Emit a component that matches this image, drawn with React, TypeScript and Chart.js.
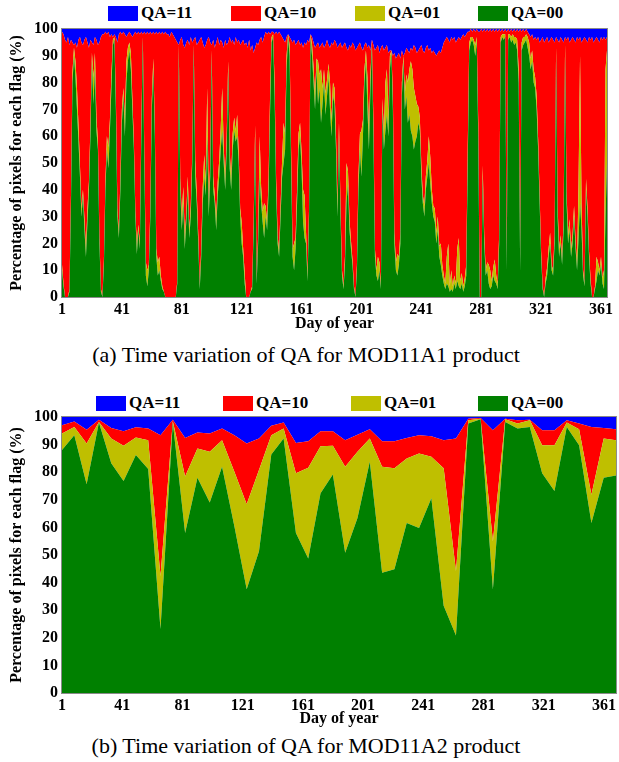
import { useEffect, useRef } from "react";
import Chart from "chart.js/auto";

const SERIF = "'Liberation Serif', 'Times New Roman', serif";

const FLAG_LABELS = ["QA=11", "QA=10", "QA=01", "QA=00"];
const FLAG_COLORS = ["#0000FF", "#FF0000", "#BFBF00", "#008000"];

const DAY_TICKS = [1, 41, 81, 121, 161, 201, 241, 281, 321, 361];

// MOD11A1 (daily): upper edge of each flag band in % of pixels, stacked from QA=00 upward.
// Whatever lies above the QA=10 edge is QA=11.
const A1_TOP_QA00 = [
  10, 4, 0, 0, 0, 2, 35, 80, 90, 82, 70, 58, 45, 30, 38, 25, 15, 28, 40, 60,
  88, 72, 85, 62, 55, 20, 2, 0, 12, 40, 55, 48, 62, 78, 94, 96, 70, 30, 22, 40,
  65, 75, 60, 80, 88, 92, 85, 70, 55, 30, 16, 25, 18, 60, 96, 50, 8, 4, 10, 30,
  70, 85, 60, 15, 8, 10, 6, 3, 2, 0, 0, 0, 0, 0, 0, 0, 0, 5, 92, 40,
  25, 35, 18, 28, 40, 22, 30, 50, 93, 45, 35, 20, 3, 15, 35, 45, 38, 60, 30, 45,
  90, 40, 35, 25, 38, 45, 55, 62, 50, 40, 55, 85, 48, 40, 55, 62, 58, 60, 50, 30,
  20, 15, 5, 0, 0, 0, 2, 3, 25, 60, 5, 20, 45, 35, 28, 22, 30, 25, 40, 70,
  95, 97, 75, 40, 20, 15, 30, 45, 50, 55, 85, 97, 90, 50, 15, 10, 18, 35, 55, 60,
  48, 28, 22, 20, 6, 30, 97, 90, 80, 70, 85, 72, 78, 65, 72, 80, 68, 75, 82, 70,
  60, 75, 72, 55, 30, 60, 30, 8, 3, 12, 35, 42, 25, 18, 12, 3, 0, 10, 40, 55,
  45, 60, 80, 88, 70, 55, 78, 94, 60, 15, 8, 6, 10, 3, 70, 55, 62, 68, 60, 85,
  91, 70, 20, 10, 8, 12, 20, 75, 88, 70, 75, 65, 68, 62, 60, 55, 58, 60, 65, 62,
  45, 35, 30, 40, 45, 50, 42, 35, 30, 28, 20, 25, 15, 12, 8, 5, 3, 5, 4, 2,
  3, 2, 5, 3, 6, 4, 3, 5, 2, 4, 8, 50, 92, 95, 96, 94, 90, 95, 60, 0,
  0, 45, 20, 8, 10, 5, 3, 4, 8, 6, 5, 3, 20, 95, 97, 96, 97, 10, 96, 97,
  95, 96, 94, 95, 92, 80, 10, 92, 94, 95, 96, 93, 90, 85, 88, 80, 78, 70, 55, 35,
  15, 3, 0, 5, 8, 15, 20, 10, 8, 20, 90, 30, 15, 20, 12, 25, 90, 35, 20, 25,
  15, 20, 30, 18, 10, 22, 35, 25, 8, 4, 40, 30, 15, 5, 0, 0, 3, 6, 10, 8,
  12, 5, 3, 30, 50,
];
const A1_TOP_QA01 = [
  12, 5, 0, 0, 0, 3, 38, 84, 93, 88, 78, 64, 49, 33, 40, 29, 18, 33, 43, 64,
  91, 82, 91, 67, 58, 22, 3, 0, 14, 43, 60, 56, 66, 83, 96, 97, 74, 33, 24, 44,
  70, 78, 66, 88, 93, 95, 91, 74, 58, 32, 19, 27, 20, 64, 97, 53, 13, 10, 12, 33,
  74, 89, 63, 18, 13, 15, 8, 4, 2, 0, 0, 0, 0, 0, 0, 0, 0, 6, 94, 44,
  30, 41, 22, 31, 45, 25, 34, 53, 94, 51, 39, 23, 4, 18, 41, 53, 43, 78, 34, 50,
  92, 45, 38, 29, 43, 51, 63, 78, 56, 44, 60, 88, 54, 44, 61, 67, 62, 68, 54, 33,
  28, 18, 9, 0, 0, 0, 2, 4, 28, 64, 6, 23, 60, 41, 32, 35, 34, 28, 45, 76,
  97, 98, 80, 44, 23, 17, 34, 51, 65, 61, 90, 98, 94, 55, 18, 20, 22, 40, 61, 65,
  54, 40, 38, 24, 8, 33, 98, 94, 86, 75, 89, 88, 83, 85, 78, 85, 76, 81, 87, 80,
  66, 80, 78, 60, 34, 65, 34, 10, 4, 15, 50, 47, 29, 21, 14, 4, 0, 12, 45, 61,
  62, 66, 85, 92, 82, 61, 83, 95, 65, 18, 10, 15, 13, 4, 74, 61, 80, 85, 66, 90,
  92, 75, 24, 13, 16, 15, 24, 80, 90, 76, 83, 80, 85, 88, 85, 78, 75, 72, 71, 67,
  49, 38, 34, 45, 51, 60, 52, 40, 34, 33, 24, 30, 19, 20, 12, 8, 5, 15, 20, 4,
  10, 4, 8, 5, 18, 22, 6, 9, 4, 7, 12, 56, 95, 97, 97, 96, 94, 97, 65, 0,
  0, 49, 23, 10, 13, 12, 10, 6, 11, 14, 8, 5, 24, 97, 98, 98, 98, 12, 98, 98,
  97, 98, 97, 97, 96, 85, 13, 95, 97, 97, 98, 97, 95, 89, 92, 85, 82, 75, 59, 38,
  17, 4, 0, 7, 11, 18, 24, 12, 10, 23, 93, 34, 18, 23, 14, 29, 94, 39, 23, 29,
  18, 23, 34, 21, 12, 42, 90, 35, 10, 5, 44, 33, 17, 7, 0, 0, 4, 15, 13, 10,
  15, 7, 10, 85, 92,
];
const A1_TOP_QA10 = [
  99, 98, 96, 95, 97, 94, 96, 95, 94, 95, 93, 96, 97, 95, 94, 96, 97, 95, 93, 96,
  95, 94, 97, 96, 94, 95, 97, 98, 98, 99, 98, 99, 97, 98, 97, 98, 97, 95, 98, 99,
  98, 99, 98, 97, 98, 99, 98, 97, 98, 99, 98, 99, 98, 99, 98, 99, 98, 99, 98, 99,
  98, 99, 98, 99, 98, 99, 98, 99, 98, 99, 98, 98, 97, 99, 98, 97, 96, 95, 94, 96,
  97, 94, 93, 95, 96, 94, 97, 95, 96, 97, 94, 95, 96, 97, 95, 93, 94, 96, 97, 95,
  94, 96, 93, 95, 97, 94, 96, 95, 93, 96, 94, 95, 97, 95, 96, 94, 97, 95, 96, 94,
  95, 96, 94, 95, 93, 96, 92, 94, 91, 93, 95, 94, 96, 97, 95, 97, 99, 98, 99, 98,
  99, 99, 98, 99, 98, 99, 98, 97, 96, 95, 97, 98, 97, 96, 95, 96, 94, 95, 96, 94,
  95, 93, 95, 94, 96, 95, 98, 97, 95, 93, 94, 95, 93, 94, 95, 93, 94, 96, 94, 93,
  95, 94, 96, 95, 93, 94, 95, 93, 94, 95, 93, 92, 94, 93, 95, 94, 92, 93, 94, 95,
  93, 92, 94, 95, 93, 94, 92, 96, 94, 92, 93, 94, 91, 93, 94, 92, 93, 94, 91, 92,
  92, 90, 91, 89, 90, 91, 89, 92, 90, 91, 93, 92, 91, 93, 92, 94, 93, 91, 92, 93,
  94, 92, 91, 93, 94, 92, 93, 91, 92, 91, 90, 91, 92, 91, 93, 95, 96, 97, 96, 95,
  97, 96, 97, 95, 96, 97, 96, 97, 98, 97, 98, 99, 99, 100, 99, 100, 99, 100, 99, 99,
  100, 99, 100, 99, 100, 99, 100, 99, 100, 99, 100, 99, 100, 99, 100, 99, 100, 99, 100, 99,
  100, 99, 100, 99, 100, 99, 100, 99, 100, 99, 100, 99, 98, 97, 98, 96, 97, 96, 97, 95,
  96, 97, 95, 96, 97, 95, 96, 97, 96, 95, 97, 96, 95, 97, 96, 95, 97, 96, 97, 95,
  96, 97, 96, 95, 97, 96, 97, 95, 96, 97, 96, 95, 97, 96, 97, 95, 96, 97, 96, 95,
  97, 96, 97, 96, 97,
];

// MOD11A2 (8-day composites, 46 periods): upper edge of each flag band in %.
const A2_TOP_QA00 = [
  88, 93.4, 75.6, 98, 83.2, 76.8, 86.2, 81.2, 23.2, 98,
  58, 78, 69, 82, 60.4, 37.6, 51.4, 86.4, 92.2, 58,
  48.7, 72.4, 79.2, 50.8, 63.4, 83.8, 43.6, 44.8, 61.6, 59.8,
  70.6, 31.6, 20.8, 97.6, 99.2, 37.6, 98.2, 95.8, 96.4, 79.6,
  73.2, 96.4, 89.8, 61.6, 78, 78.8,
];
const A2_TOP_QA01 = [
  94, 96.4, 90.4, 98.2, 92.2, 89.6, 92.6, 91.6, 42.4, 98.5,
  78.4, 88.6, 87.4, 91.6, 80.2, 68.4, 80.8, 93.4, 95.8, 79.6,
  81.6, 89.4, 89.6, 82, 87.4, 92.2, 82, 81.4, 85, 86.8,
  85.6, 81.4, 44.2, 98.8, 99.4, 55, 99.2, 97.6, 98.8, 89.8,
  89.8, 98, 95.6, 71.8, 92.2, 91.6,
];
const A2_TOP_QA10 = [
  97, 98.4, 95.4, 99, 96, 94.8, 96.3, 95.8, 93.4, 99,
  92.4, 94.4, 94, 95.8, 93.4, 90.4, 92.2, 96.8, 98, 90.6,
  91.2, 94.8, 94.8, 91.6, 93.6, 95.6, 91.2, 91.2, 92.4, 93.4,
  93, 91.6, 92.2, 99.4, 99.6, 95.2, 99.4, 98.8, 99, 95.2,
  95.2, 98.8, 97.6, 96.4, 96, 95.6,
];

type Frame = {
  canvasTop: number;
  canvasHeight: number;
  plotTop: number;
  plotBottom: number;
  plotRight: number;
  xMax: number;
};

// thin grey box around the plotting area
const plotFrame = {
  id: "plotFrame",
  afterDraw(chart: any) {
    const { ctx, chartArea } = chart;
    ctx.save();
    ctx.strokeStyle = "#8a8a8a";
    ctx.lineWidth = 1;
    ctx.strokeRect(
      chartArea.left - 0.5,
      chartArea.top - 0.5,
      chartArea.right - chartArea.left + 1,
      chartArea.bottom - chartArea.top + 1
    );
    ctx.restore();
  },
};

function QaChart({
  xs,
  top00,
  top01,
  top10,
  frame,
}: {
  xs: number[];
  top00: number[];
  top01: number[];
  top10: number[];
  frame: Frame;
}) {
  const ref = useRef<HTMLCanvasElement | null>(null);

  useEffect(() => {
    if (!ref.current) return;
    const pts = (arr: number[]) => arr.map((v, i) => ({ x: xs[i], y: v }));
    const line = { pointRadius: 0, borderWidth: 0, tension: 0 };
    const chart = new Chart(ref.current, {
      type: "line",
      data: {
        datasets: [
          { label: FLAG_LABELS[3], data: pts(top00), fill: "origin", backgroundColor: FLAG_COLORS[3], ...line },
          { label: FLAG_LABELS[2], data: pts(top01), fill: "-1", backgroundColor: FLAG_COLORS[2], ...line },
          { label: FLAG_LABELS[1], data: pts(top10), fill: "-1", backgroundColor: FLAG_COLORS[1], ...line },
          { label: FLAG_LABELS[0], data: pts(top10), fill: "end", backgroundColor: FLAG_COLORS[0], ...line },
        ],
      },
      options: {
        animation: false,
        responsive: false,
        events: [],
        layout: {
          padding: { top: frame.plotTop - frame.canvasTop, right: 619 - frame.plotRight, left: 0, bottom: 0 },
        },
        plugins: { legend: { display: false }, tooltip: { enabled: false } },
        scales: {
          x: {
            type: "linear",
            min: 1,
            max: frame.xMax,
            afterBuildTicks: (axis: any) => {
              axis.ticks = DAY_TICKS.map((v) => ({ value: v }));
            },
            afterFit: (axis: any) => {
              axis.height = frame.canvasTop + frame.canvasHeight - frame.plotBottom;
            },
            grid: { display: false, drawTicks: false },
            border: { display: false },
            ticks: {
              color: "#000",
              padding: 3,
              maxRotation: 0,
              font: { family: SERIF, size: 16, weight: "bold" },
            },
            title: {
              display: true,
              text: "Day of year",
              color: "#000",
              padding: { top: 0, bottom: 2 },
              font: { family: SERIF, size: 16, weight: "bold" },
            },
          },
          y: {
            min: 0,
            max: 100,
            ticks: {
              stepSize: 10,
              color: "#000",
              padding: 4,
              font: { family: SERIF, size: 16, weight: "bold" },
            },
            afterFit: (axis: any) => {
              axis.width = 62;
            },
            grid: { display: false, drawTicks: false },
            border: { display: false },
            title: {
              display: true,
              text: "Percentage of pixels for each flag (%)",
              color: "#000",
              padding: { top: 7, bottom: 0 },
              font: { family: SERIF, size: 16, weight: "bold" },
            },
          },
        },
      } as any,
      plugins: [plotFrame],
    });
    return () => chart.destroy();
  }, []);

  return (
    <canvas
      ref={ref}
      width={619}
      height={frame.canvasHeight}
      style={{ position: "absolute", left: 0, top: frame.canvasTop, width: 619, height: frame.canvasHeight }}
    />
  );
}

function FlagLegend({ top, lefts }: { top: number; lefts: number[] }) {
  return (
    <>
      {FLAG_LABELS.map((label, k) => (
        <div
          key={label}
          style={{ position: "absolute", left: lefts[k], top, height: 16, display: "flex", alignItems: "center" }}
        >
          <span style={{ display: "inline-block", width: 30, height: 15, background: FLAG_COLORS[k] }} />
          <span
            style={{ marginLeft: 3, font: `bold 17px ${SERIF}`, color: "#000", lineHeight: "16px", whiteSpace: "nowrap" }}
          >
            {label}
          </span>
        </div>
      ))}
    </>
  );
}

function Caption({ top, text }: { top: number; text: string }) {
  return (
    <div
      style={{
        position: "absolute",
        left: 0,
        top,
        width: 612,
        textAlign: "center",
        font: `22px ${SERIF}`,
        color: "#000",
        lineHeight: "24px",
        whiteSpace: "nowrap",
      }}
    >
      {text}
    </div>
  );
}

const A1_DAYS = A1_TOP_QA00.map((_, i) => i + 1);
// the 46 composites are spread evenly over the axis span
const A2_POS = A2_TOP_QA00.map((_, i) => 1 + (i * 368) / 45);

export default function App() {
  return (
    <div style={{ position: "absolute", left: 0, top: 0, width: 619, height: 762, background: "#fff" }}>
      <FlagLegend top={5} lefts={[108, 231, 355, 478]} />
      <QaChart
        xs={A1_DAYS}
        top00={A1_TOP_QA00}
        top01={A1_TOP_QA01}
        top10={A1_TOP_QA10}
        frame={{ canvasTop: 0, canvasHeight: 335, plotTop: 29, plotBottom: 297, plotRight: 607, xMax: 365 }}
      />
      <Caption top={343} text="(a) Time variation of QA for MOD11A1 product" />
      <FlagLegend top={395} lefts={[96, 223, 351, 478]} />
      <QaChart
        xs={A2_POS}
        top00={A2_TOP_QA00}
        top01={A2_TOP_QA01}
        top10={A2_TOP_QA10}
        frame={{ canvasTop: 380, canvasHeight: 350, plotTop: 417, plotBottom: 693, plotRight: 618, xMax: 369 }}
      />
      <Caption top={734} text="(b) Time variation of QA for MOD11A2 product" />
    </div>
  );
}
